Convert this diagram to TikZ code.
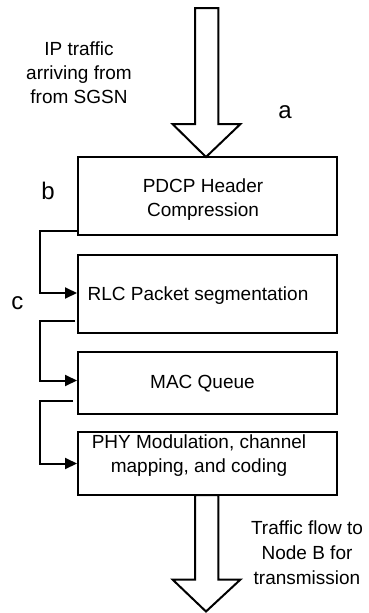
\documentclass[tikz,border=0pt]{standalone}
\usepackage{fontspec}
\setmainfont{Liberation Sans}
\usetikzlibrary{arrows.meta}
\begin{document}
\begin{tikzpicture}[x=1pt,y=-1pt,
  box/.style={draw, line width=2pt, minimum width=259pt, inner sep=0pt},
  conn/.style={line width=2pt, -{Triangle[length=12pt,width=11pt]}},
  bigarrow/.style={draw, line width=2pt, fill=white, line join=miter},
  lbl/.style={font=\fontsize{24}{28}\selectfont, inner sep=0pt},
  txt/.style={font=\fontsize{19}{24}\selectfont, align=center, inner sep=0pt}]
\useasboundingbox (0,0) rectangle (368,613);
\fill[white] (0,0) rectangle (368,613);

\node[box, minimum height=78pt] (pdcp) at (207.5,196) {};
\node[box, minimum height=78pt] (rlc) at (207.5,294) {};
\node[box, minimum height=62pt] (mac) at (207.5,383) {};
\node[box, minimum height=63pt] (phy) at (207.5,463.5) {};

\node[txt] (pdcptext) at (203,200) {PDCP Header\\Compression};
\node[txt] (rlctext) at (198,296) {RLC Packet segmentation};
\node[txt] (mactext) at (202.5,384) {MAC Queue};
\node[txt] (phytext) at (199,456) {PHY Modulation, channel\\mapping, and coding};

% top big arrow
\coordinate (tiptop) at (206,157);
\draw[bigarrow] (195,8) -- (218.3,8) -- (218.3,124) -- (240.5,124) -- (tiptop)
  -- (172.5,124) -- (195,124) -- cycle;
% bottom big arrow
\coordinate (tipbot) at (206,611.5);
\draw[bigarrow] (195,495) -- (218.3,495) -- (218.3,579.5) -- (240.5,579.5) -- (tipbot)
  -- (172.5,579.5) -- (195,579.5) -- cycle;

% connectors
\coordinate (s1) at (78,231);
\coordinate (s2) at (75,321);
\coordinate (s3) at (73,400.5);
\draw[conn] (s1) -- (39.5,231) |- ([yshift=1pt]rlc.west);
\draw[conn] (s2) -- (39.5,321) |- ([yshift=2.5pt]mac.west);
\draw[conn] (s3) -- (39.5,400.5) |- (phy.west);

% texts
\node[txt] (intext) at (79,73) {IP traffic\\arriving from\\from SGSN};
\node[txt, font=\fontsize{19}{25}\selectfont] (outtext) at (307,553) {Traffic flow to\\Node B for\\transmission};
\node[lbl] (la) at (285,112) {a};
\node[lbl] (lb) at (48,191) {b};
\node[lbl] (lc) at (17.5,303) {c};
\end{tikzpicture}
\end{document}
